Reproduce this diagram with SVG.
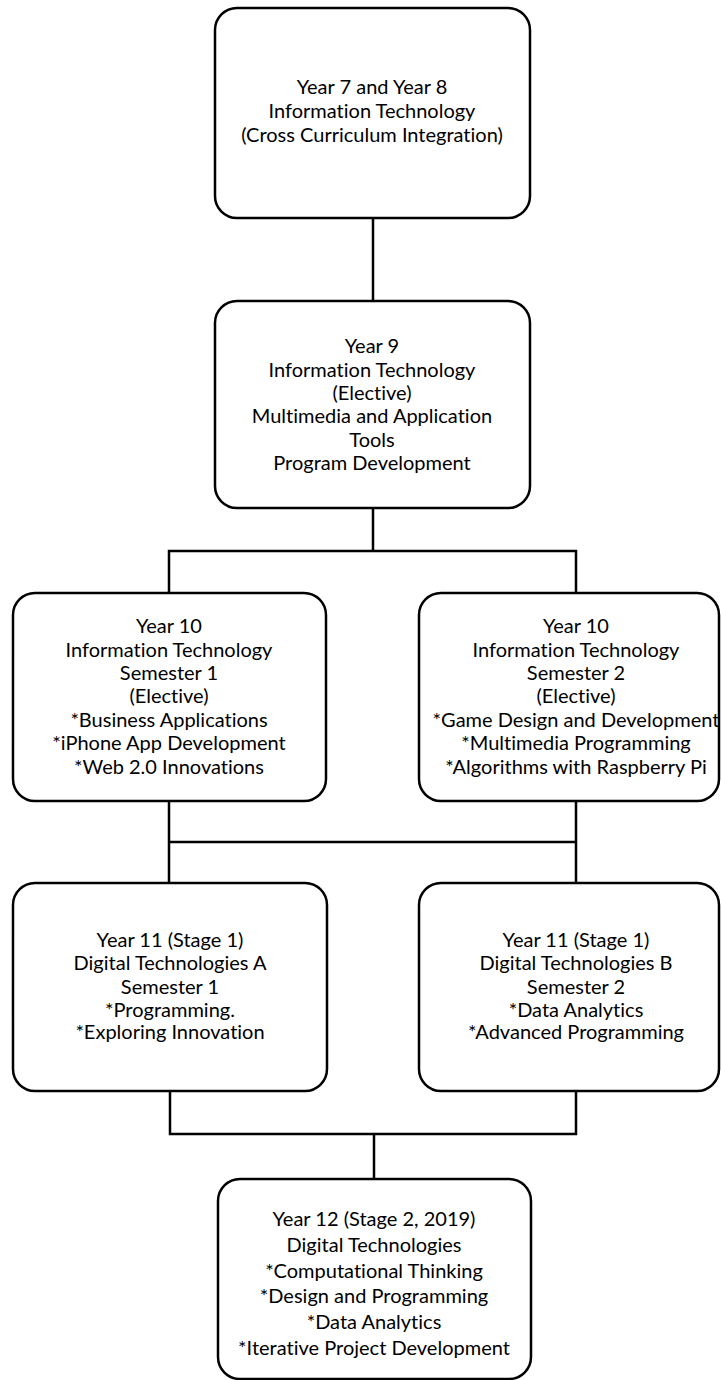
<svg xmlns="http://www.w3.org/2000/svg" width="721" height="1380" viewBox="0 0 721 1380">
  <style>
    .box { fill: #ffffff; stroke: #000000; stroke-width: 2.5; }
    .wire { fill: none; stroke: #000000; stroke-width: 2.5; }
    text { font-family: Lato, "Open Sans", "Liberation Sans", sans-serif; font-size: 20px; fill: #000000; text-anchor: middle; font-variant-ligatures: none; }
  </style>
  <rect width="721" height="1380" fill="#ffffff"/>

  <!-- connectors -->
  <g id="connectors">
    <path class="wire" d="M373 218 V301"/>
    <path class="wire" d="M373 508 V551 M169 593 V551 H576 V593"/>
    <path class="wire" d="M169 801 V883 M576 801 V883 M169 842 H576"/>
    <path class="wire" d="M170 1091 V1134 H576 V1091 M374 1134 V1179"/>
  </g>

  <g id="year7-8">
    <rect class="box" x="215" y="8" width="315" height="210" rx="22"/>
    <text x="372" y="94">Year 7 and Year 8</text>
    <text x="372" y="118">Information Technology</text>
    <text x="372" y="142">(Cross Curriculum Integration)</text>
  </g>

  <g id="year9">
    <rect class="box" x="215" y="301" width="315" height="207" rx="22"/>
    <text x="372" y="353">Year 9</text>
    <text x="372" y="376.5">Information Technology</text>
    <text x="372" y="400">(Elective)</text>
    <text x="372" y="423">Multimedia and Application</text>
    <text x="372" y="446.5">Tools</text>
    <text x="372" y="469.5">Program Development</text>
  </g>

  <g id="year10-sem1">
    <rect class="box" x="13" y="593" width="313" height="208" rx="22"/>
    <text x="169" y="633">Year 10</text>
    <text x="169" y="656.5">Information Technology</text>
    <text x="169" y="680">Semester 1</text>
    <text x="169" y="703">(Elective)</text>
    <text x="169" y="727">*Business Applications</text>
    <text x="169" y="750">*iPhone App Development</text>
    <text x="169" y="773.5">*Web 2.0 Innovations</text>
  </g>

  <g id="year10-sem2">
    <rect class="box" x="419" y="593" width="300" height="208" rx="22"/>
    <text x="576" y="633">Year 10</text>
    <text x="576" y="656.5">Information Technology</text>
    <text x="576" y="680">Semester 2</text>
    <text x="576" y="703">(Elective)</text>
    <text x="576" y="727">*Game Design and Development</text>
    <text x="576" y="750">*Multimedia Programming</text>
    <text x="576" y="773.5">*Algorithms with Raspberry Pi</text>
  </g>

  <g id="year11-a">
    <rect class="box" x="13" y="883" width="314" height="208" rx="22"/>
    <text x="170" y="946.5">Year 11 (Stage 1)</text>
    <text x="170" y="970">Digital Technologies A</text>
    <text x="170" y="993.5">Semester 1</text>
    <text x="170" y="1016.5">*Programming.</text>
    <text x="170" y="1039">*Exploring Innovation</text>
  </g>

  <g id="year11-b">
    <rect class="box" x="419" y="883" width="300" height="208" rx="22"/>
    <text x="576" y="946.5">Year 11 (Stage 1)</text>
    <text x="576" y="970">Digital Technologies B</text>
    <text x="576" y="993.5">Semester 2</text>
    <text x="576" y="1016.5">*Data Analytics</text>
    <text x="576" y="1039">*Advanced Programming</text>
  </g>

  <g id="year12">
    <rect class="box" x="218" y="1179" width="313" height="200" rx="22"/>
    <text x="374" y="1226">Year 12 (Stage 2, 2019)</text>
    <text x="374" y="1251.5">Digital Technologies</text>
    <text x="374" y="1277.5">*Computational Thinking</text>
    <text x="374" y="1303">*Design and Programming</text>
    <text x="374" y="1329">*Data Analytics</text>
    <text x="374" y="1355">*Iterative Project Development</text>
  </g>
</svg>
